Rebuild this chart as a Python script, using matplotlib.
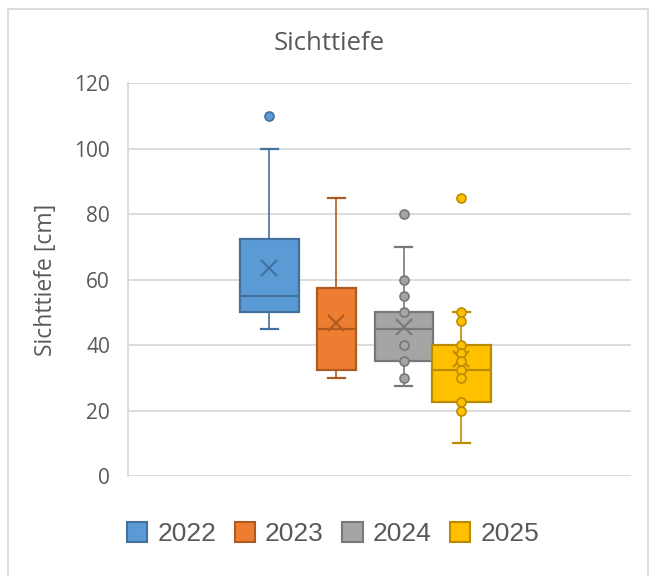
import matplotlib.pyplot as plt
from matplotlib.patches import Patch, Rectangle

# Secchi depth per year (cm)
years = ["2022", "2023", "2024", "2025"]
whisker_low = [45, 30, 27.5, 10]
q1 = [50, 32.5, 35, 22.5]
median = [55, 45, 45, 32.5]
q3 = [72.5, 57.5, 50, 40]
whisker_high = [100, 85, 70, 50]
means = [63.6, 46.7, 45.4, 35.8]
outliers = [[110], [], [80], [85]]
inner_points = [[], [], [60, 55, 50, 40, 35, 30],
                [50, 47.5, 40, 37.5, 35, 32.5, 30, 22.5, 20]]

face_colors = ["#5B9BD5", "#ED7D31", "#A5A5A5", "#FFC000"]
edge_colors = ["#41719C", "#AE5A21", "#787878", "#BC8C00"]

positions = [2.415, 3.56, 4.713, 5.70]
widths = [1.0, 0.67, 0.99, 1.0]

text_color = "#595959"
grid_color = "#D9D9D9"

fig = plt.figure(figsize=(6.51, 5.76), dpi=100)
ax = fig.add_axes([128 / 651, 1 - 476 / 576, 502.7 / 651, 392.7 / 576])

for i in range(len(years)):
    stats = [{
        "whislo": whisker_low[i], "q1": q1[i], "med": median[i],
        "q3": q3[i], "whishi": whisker_high[i], "mean": means[i],
        "fliers": [],
    }]
    ax.bxp(stats, positions=[positions[i]], widths=[widths[i]],
           capwidths=[0.29], patch_artist=True, showmeans=False,
           showfliers=False, manage_ticks=False,
           boxprops=dict(facecolor=face_colors[i], edgecolor=edge_colors[i], linewidth=1.6),
           medianprops=dict(color=edge_colors[i], linewidth=1.6),
           whiskerprops=dict(color=edge_colors[i], linewidth=1.2),
           capprops=dict(color=edge_colors[i], linewidth=1.6))
    # mean marker
    ax.plot(positions[i], means[i], marker="x", markersize=11, markeredgewidth=1.5,
            color=edge_colors[i], zorder=4)
    pts = inner_points[i] + outliers[i]
    if pts:
        ax.plot([positions[i]] * len(pts), pts, linestyle="none", marker="o",
                markersize=6.5, markerfacecolor=face_colors[i],
                markeredgecolor=edge_colors[i], markeredgewidth=1.2, zorder=5)

ax.set_xlim(0, 502.7 / 58.5)
ax.set_ylim(0, 120)
ax.set_yticks(range(0, 121, 20))
ax.set_xticks([])
ax.grid(axis="y", color=grid_color, linewidth=1.3, zorder=0)
ax.set_axisbelow(True)
for side in ["top", "right", "bottom"]:
    ax.spines[side].set_visible(False)
ax.spines["left"].set_color(grid_color)
ax.spines["left"].set_linewidth(1.3)
ax.tick_params(axis="y", length=0, pad=13, labelsize=15, labelcolor=text_color)
for lbl in ax.get_yticklabels():
    lbl.set_fontfamily("Open Sans")

ax.set_ylabel("Sichttiefe [cm]", fontsize=16.5, color=text_color,
              fontfamily="Open Sans", labelpad=12)
fig.text(329 / 651, 1 - 44 / 576, "Sichttiefe", ha="center", va="center",
         fontsize=18.5, color=text_color, fontfamily="Open Sans")

handles = [Patch(facecolor=face_colors[i], edgecolor=edge_colors[i], linewidth=1.5)
           for i in range(len(years))]
leg = fig.legend(handles, years, loc="center", bbox_to_anchor=(333 / 651, 1 - 534 / 576),
                 ncol=4, frameon=False, fontsize=19, handlelength=0.77,
                 handleheight=0.77, handletextpad=0.38, columnspacing=0.7)
for t in leg.get_texts():
    t.set_color(text_color)
    t.set_fontfamily("Liberation Sans")

# chart frame
fig.patches.append(Rectangle((8 / 651, -0.05), (647.7 - 8) / 651, 1.05 - 9 / 576,
                             transform=fig.transFigure, fill=False,
                             edgecolor=grid_color, linewidth=1.3))

fig.savefig("out.png", dpi=100)
